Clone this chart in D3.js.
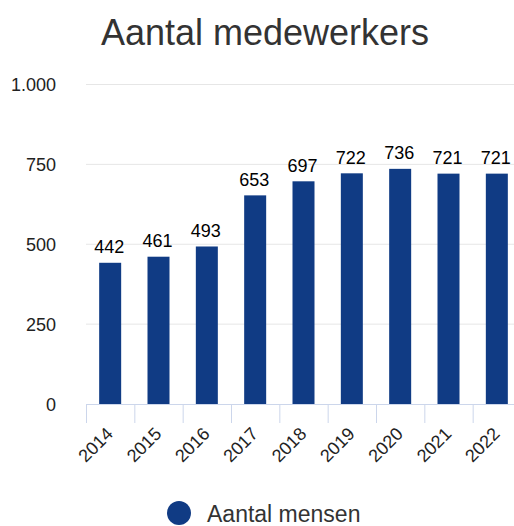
<!DOCTYPE html>
<html><head><meta charset="utf-8">
<script src="https://cdn.jsdelivr.net/npm/d3@7"></script>
<style>body{margin:0;background:#fff}svg{display:block;font-family:"Liberation Sans",Arial,sans-serif}</style>
</head><body>
<svg id="c" width="514" height="526"></svg>
<script>
const title = "Aantal medewerkers";
const years = ["2014","2015","2016","2017","2018","2019","2020","2021","2022"];
const values = [442,461,493,653,697,722,736,721,721];
const yTicks = [0,250,500,750,1000];
const yTickLabels = ["0","250","500","750","1.000"];
const seriesName = "Aantal mensen";

(function(){
const svg = d3.select("#c");
const mLeft = 86, mRight = 521, mTop = 84.5, mBottom = 404;
const x = d3.scaleBand().domain(years).range([mLeft, mRight]).padding(0);
const y = d3.scaleLinear().domain([0,1000]).range([mBottom, mTop]);
const barColor = "#103b84";

svg.append("text").attr("x",265).attr("y",45).attr("text-anchor","middle")
  .attr("font-size",36).attr("fill","#333").text(title);

// gridlines
svg.append("g").selectAll("line").data(yTicks.slice(1)).join("line")
  .attr("x1",mLeft).attr("x2",514).attr("y1",d=>y(d)).attr("y2",d=>y(d))
  .attr("stroke","#e6e6e6").attr("stroke-width",1);

// y labels
svg.append("g").selectAll("text").data(yTicks).join("text")
  .attr("x",56).attr("y",d=>y(d)+6.5).attr("text-anchor","end")
  .attr("font-size",18).attr("fill","#222").text((d,i)=>yTickLabels[i]);

// bars
const bw = 22;
svg.append("g").selectAll("rect").data(values).join("rect")
  .attr("x",(d,i)=>x(years[i])+x.bandwidth()/2-bw/2).attr("width",bw)
  .attr("y",d=>y(d)).attr("height",d=>mBottom-y(d)).attr("fill",barColor);

// data labels
svg.append("g").selectAll("text").data(values).join("text")
  .attr("x",(d,i)=>x(years[i])+x.bandwidth()/2-1).attr("y",d=>y(d)-9.5)
  .attr("text-anchor","middle").attr("font-size",18).attr("fill","#000").text(d=>d);

// x axis
const ax = svg.append("g");
ax.append("line").attr("x1",mLeft).attr("x2",514).attr("y1",mBottom+0.5).attr("y2",mBottom+0.5)
  .attr("stroke","#ccd6eb");
ax.selectAll("line.t").data(years).join("line").attr("class","t")
  .attr("x1",d=>x(d)+0.5).attr("x2",d=>x(d)+0.5).attr("y1",mBottom).attr("y2",mBottom+19)
  .attr("stroke","#ccd6eb");
ax.selectAll("text").data(years).join("text")
  .attr("transform",d=>`translate(${x(d)+x.bandwidth()/2+4},${mBottom+31}) rotate(-45)`)
  .attr("text-anchor","end").attr("font-size",18).attr("fill","#222").text(d=>d);

// legend
svg.append("circle").attr("cx",179).attr("cy",513).attr("r",12).attr("fill",barColor);
svg.append("text").attr("x",207).attr("y",522).attr("font-size",23).attr("fill","#333").text(seriesName);
})();
</script>
</body></html>
